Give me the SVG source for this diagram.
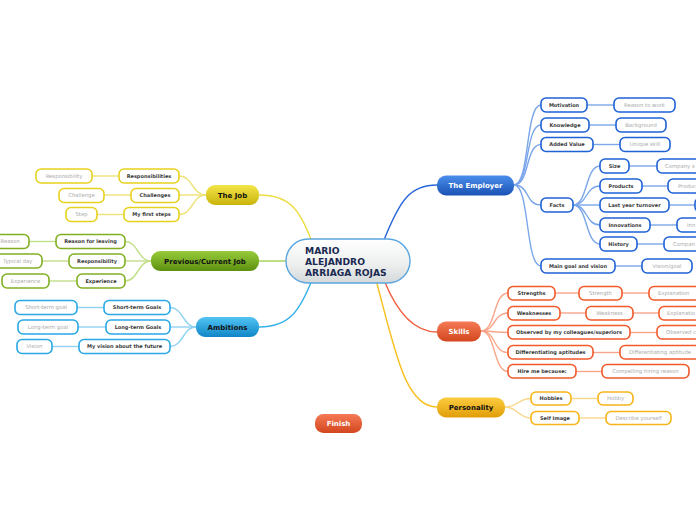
<svg xmlns="http://www.w3.org/2000/svg" width="696" height="520" viewBox="0 0 696 520">
<defs>
<linearGradient id="gCenter" x1="0" y1="0" x2="0" y2="1"><stop offset="0" stop-color="#ffffff"/><stop offset="0.6" stop-color="#eceeee"/><stop offset="1" stop-color="#d4d8d8"/></linearGradient>
<linearGradient id="gBlue" x1="0" y1="0" x2="0" y2="1"><stop offset="0" stop-color="#4a8eec"/><stop offset="1" stop-color="#1a52b4"/></linearGradient>
<linearGradient id="gRed" x1="0" y1="0" x2="0" y2="1"><stop offset="0" stop-color="#f57a55"/><stop offset="1" stop-color="#d2461e"/></linearGradient>
<linearGradient id="gOrange" x1="0" y1="0" x2="0" y2="1"><stop offset="0" stop-color="#fbcc40"/><stop offset="1" stop-color="#e19d08"/></linearGradient>
<linearGradient id="gYellow" x1="0" y1="0" x2="0" y2="1"><stop offset="0" stop-color="#f3e448"/><stop offset="1" stop-color="#c9b40c"/></linearGradient>
<linearGradient id="gGreen" x1="0" y1="0" x2="0" y2="1"><stop offset="0" stop-color="#98cc3c"/><stop offset="1" stop-color="#5c900e"/></linearGradient>
<linearGradient id="gCyan" x1="0" y1="0" x2="0" y2="1"><stop offset="0" stop-color="#52c4f4"/><stop offset="1" stop-color="#0e86c6"/></linearGradient>
</defs>
<style>
text{font-family:"DejaVu Sans",Verdana,sans-serif}
.c{fill:none;stroke-width:1.4}
.main{font-size:7px;font-weight:bold;text-anchor:middle}
.l2{fill:#fff;stroke-width:1.6}
.t2{font-size:5px;font-weight:bold;fill:#3a3a3a;text-anchor:middle}
.t3{font-size:5.3px;fill:#aaa;text-anchor:middle}
.s{text-anchor:start}
.bl{stroke:#1e62d6}.rd{stroke:#f25a2a}.or{stroke:#f8b418}.ye{stroke:#e6d21e}.gr{stroke:#80b022}.cy{stroke:#2aa8e6}
.cbl{stroke:#7ba6ea}.crd{stroke:#f9a58a}.cor{stroke:#fbd68a}.cye{stroke:#eee27a}.cgr{stroke:#c2df8a}.ccy{stroke:#8fd2f2}
</style>
<g id="connectors">
<path class="c" stroke="#2a66d8" d="M384 240 C400 200 410 185 437 185"/>
<path class="c" stroke="#f26040" d="M384 280 C398 315 415 332 437 332"/>
<path class="c" stroke="#f8c020" d="M376 280 C395 350 405 407 437 407"/>
<path class="c" stroke="#ecdc3c" d="M312 242 C300 210 290 195 259 195"/>
<path class="c" stroke="#a2d052" d="M288 261 L259 261"/>
<path class="c" stroke="#34b0ea" d="M312 280 C300 310 290 327 259 327"/>
<g class="c cbl">
<path d="M514 185 C530 185 525 105 541 105"/>
<path d="M514 185 C530 185 525 125 541 125"/>
<path d="M514 185 C530 185 525 144.5 541 144.5"/>
<path d="M514 185 C530 185 525 205 541 205"/>
<path d="M514 185 C530 185 525 266 541 266"/>
<path d="M573 205 C588 205 585 166 600 166"/>
<path d="M573 205 C588 205 585 186 600 186"/>
<path d="M573 205 L600 205"/>
<path d="M573 205 C588 205 585 225 600 225"/>
<path d="M573 205 C588 205 585 244 600 244"/>
<path d="M587 105 H614"/><path d="M589 125 H616"/><path d="M593 144.5 H620"/>
<path d="M629 166 H657"/><path d="M642 186 H668"/><path d="M669 205 H695"/><path d="M650 225 H677"/><path d="M637 244 H664"/>
<path d="M615 266 H642"/>
</g>
<g class="c crd">
<path d="M481 331 C496 331 493 293 508 293"/>
<path d="M481 331 C496 331 493 313 508 313"/>
<path d="M481 331 C496 331 493 332.5 508 332.5"/>
<path d="M481 331 C496 331 493 352.5 508 352.5"/>
<path d="M481 331 C496 331 493 371.5 508 371.5"/>
<path d="M555 293 H579"/><path d="M622 293 H649"/>
<path d="M560 313 H586"/><path d="M633 313 H659"/>
<path d="M630 332.5 H657"/><path d="M593 352.5 H620"/><path d="M576 371.5 H602"/>
</g>
<g class="c cor">
<path d="M505 407 C518 407 518 398.5 531 398.5"/>
<path d="M505 407 C518 407 518 418 531 418"/>
<path d="M571 398.5 H598"/><path d="M579 418 H606"/>
</g>
<g class="c cye">
<path d="M206 195 C192 195 193 176 179 176"/>
<path d="M206 195 H179"/>
<path d="M206 195 C192 195 193 214.5 179 214.5"/>
<path d="M119 176 H92"/><path d="M131 195 H104"/><path d="M124 214.5 H97"/>
</g>
<g class="c cgr">
<path d="M151 261 C138 261 138 241.5 125 241.5"/>
<path d="M151 261 H125"/>
<path d="M151 261 C138 261 138 281 125 281"/>
<path d="M56 241.5 H29"/><path d="M69 261 H42"/><path d="M77 281 H49"/>
</g>
<g class="c ccy">
<path d="M196 327 C183 327 183 307.5 170 307.5"/>
<path d="M196 327 H170"/>
<path d="M196 327 C183 327 183 346.5 170 346.5"/>
<path d="M104 307.5 H77"/><path d="M106 327 H78"/><path d="M79 346.5 H52"/>
</g>
</g>
<g id="center">
<rect x="286" y="239" width="124" height="44" rx="22" fill="url(#gCenter)" stroke="#5aa6e0" stroke-width="1.4"/>
<text x="305" y="253.5" font-size="9.2" font-weight="bold" fill="#1b2a52">MARIO</text>
<text x="305" y="264.5" font-size="9.2" font-weight="bold" fill="#1b2a52">ALEJANDRO</text>
<text x="305" y="275.5" font-size="9.2" font-weight="bold" fill="#1b2a52">ARRIAGA ROJAS</text>
</g>
<g id="employer"><rect x="437" y="175.5" width="77" height="20" rx="9" fill="url(#gBlue)"/><text class="main" x="475.5" y="188" fill="#fff">The Employer</text></g>
<g id="skills"><rect x="437" y="321.5" width="44" height="20" rx="9" fill="url(#gRed)"/><text class="main" x="459" y="334" fill="#fff">Skills</text></g>
<g id="personality"><rect x="437" y="397.5" width="68" height="20" rx="9" fill="url(#gOrange)"/><text class="main" x="471" y="410" fill="#111">Personality</text></g>
<g id="thejob"><rect x="206" y="185" width="53" height="20" rx="9" fill="url(#gYellow)"/><text class="main" x="232.5" y="197.5" fill="#111">The Job</text></g>
<g id="previous"><rect x="151" y="251" width="108" height="20" rx="9" fill="url(#gGreen)"/><text class="main" x="205" y="263.5" fill="#111">Previous/Current Job</text></g>
<g id="ambitions"><rect x="196" y="317" width="63" height="20" rx="9" fill="url(#gCyan)"/><text class="main" x="227.5" y="329.5" fill="#111">Ambitions</text></g>
<g id="finish"><rect x="315" y="414" width="47" height="19" rx="8.5" fill="url(#gRed)"/><text class="main" x="338.5" y="426" fill="#fff">Finish</text></g>

<g id="motivation"><rect class="l2 bl" x="541" y="98" width="46" height="14" rx="5"/><text class="t2" x="564" y="106.8">Motivation</text></g>
<g id="reason-work"><rect class="l2 bl" x="614" y="98" width="61" height="14" rx="5"/><text class="t3" x="644.5" y="106.8">Reason to work</text></g>
<g id="knowledge"><rect class="l2 bl" x="541" y="118" width="48" height="14" rx="5"/><text class="t2" x="565" y="126.8">Knowledge</text></g>
<g id="background"><rect class="l2 bl" x="616" y="118" width="50" height="14" rx="5"/><text class="t3" x="641" y="126.8">Background</text></g>
<g id="added-value"><rect class="l2 bl" x="541" y="137.5" width="52" height="14" rx="5"/><text class="t2" x="567" y="146.3">Added Value</text></g>
<g id="unique-skill"><rect class="l2 bl" x="620" y="137.5" width="50" height="14" rx="5"/><text class="t3" x="645" y="146.3">Unique skill</text></g>
<g id="facts"><rect class="l2 bl" x="541" y="198" width="32" height="14" rx="5"/><text class="t2" x="557" y="206.8">Facts</text></g>
<g id="size"><rect class="l2 bl" x="600" y="159" width="29" height="14" rx="5"/><text class="t2" x="614.5" y="167.8">Size</text></g>
<g id="company-size"><rect class="l2 bl" x="657" y="159" width="60" height="14" rx="5"/><text class="t3 s" x="665" y="167.8">Company s</text></g>
<g id="products"><rect class="l2 bl" x="600" y="179" width="42" height="14" rx="5"/><text class="t2" x="621" y="187.8">Products</text></g>
<g id="products2"><rect class="l2 bl" x="668" y="179" width="50" height="14" rx="5"/><text class="t3 s" x="678" y="187.8">Produc</text></g>
<g id="turnover"><rect class="l2 bl" x="600" y="198" width="69" height="14" rx="5"/><text class="t2" x="634.5" y="206.8">Last year turnover</text></g>
<g id="turnover2"><rect class="l2 bl" x="695" y="198" width="40" height="14" rx="5"/></g>
<g id="innovations"><rect class="l2 bl" x="600" y="218" width="50" height="14" rx="5"/><text class="t2" x="625" y="226.8">Innovations</text></g>
<g id="innovations2"><rect class="l2 bl" x="677" y="218" width="50" height="14" rx="5"/><text class="t3 s" x="687" y="226.8">Inn</text></g>
<g id="history"><rect class="l2 bl" x="600" y="237" width="37" height="14" rx="5"/><text class="t2" x="618.5" y="245.8">History</text></g>
<g id="history2"><rect class="l2 bl" x="664" y="237" width="50" height="14" rx="5"/><text class="t3 s" x="673" y="245.8">Compan</text></g>
<g id="main-goal"><rect class="l2 bl" x="541" y="259" width="74" height="14" rx="5"/><text class="t2" x="578" y="267.8">Main goal and vision</text></g>
<g id="vision-goal"><rect class="l2 bl" x="642" y="259" width="50" height="14" rx="5"/><text class="t3" x="667" y="267.8">Vision/goal</text></g>

<g id="strengths"><rect class="l2 rd" x="508" y="286.5" width="47" height="13.5" rx="5"/><text class="t2" x="531.5" y="295">Strengths</text></g>
<g id="strength"><rect class="l2 rd" x="579" y="286.5" width="43" height="13.5" rx="5"/><text class="t3" x="600.5" y="295">Strength</text></g>
<g id="explanation1"><rect class="l2 rd" x="649" y="286.5" width="56" height="13.5" rx="5"/><text class="t3 s" x="658" y="295">Explanation</text></g>
<g id="weaknesses"><rect class="l2 rd" x="508" y="306.5" width="52" height="13.5" rx="5"/><text class="t2" x="534" y="315">Weaknesses</text></g>
<g id="weakness"><rect class="l2 rd" x="586" y="306.5" width="47" height="13.5" rx="5"/><text class="t3" x="609.5" y="315">Weakness</text></g>
<g id="explanation2"><rect class="l2 rd" x="659" y="306.5" width="50" height="13.5" rx="5"/><text class="t3 s" x="667" y="315">Explanatio</text></g>
<g id="observed"><rect class="l2 rd" x="508" y="325.5" width="122" height="13.5" rx="5"/><text class="t2" x="569" y="334">Observed by my colleagues/superiors</text></g>
<g id="observed2"><rect class="l2 rd" x="657" y="325.5" width="50" height="13.5" rx="5"/><text class="t3 s" x="666" y="334">Observed c</text></g>
<g id="differentiating"><rect class="l2 rd" x="508" y="345.5" width="85" height="13.5" rx="5"/><text class="t2" x="550.5" y="354">Differentiating aptitudes</text></g>
<g id="differentiating2"><rect class="l2 rd" x="620" y="345.5" width="82" height="13.5" rx="5"/><text class="t3 s" x="629" y="354">Differentiating aptitude</text></g>
<g id="hire"><rect class="l2 rd" x="508" y="364.5" width="68" height="13.5" rx="5"/><text class="t2" x="542" y="373">Hire me because:</text></g>
<g id="hire2"><rect class="l2 rd" x="602" y="364.5" width="87" height="13.5" rx="5"/><text class="t3" x="645.5" y="373">Compelling hiring reason</text></g>

<g id="hobbies"><rect class="l2 or" x="531" y="392" width="40" height="13" rx="5"/><text class="t2" x="551" y="400.3">Hobbies</text></g>
<g id="hobby"><rect class="l2 or" x="598" y="392" width="35" height="13" rx="5"/><text class="t3" x="615.5" y="400.3">Hobby</text></g>
<g id="self-image"><rect class="l2 or" x="531" y="411.5" width="48" height="13" rx="5"/><text class="t2" x="555" y="419.8">Self Image</text></g>
<g id="describe"><rect class="l2 or" x="606" y="411.5" width="65" height="13" rx="5"/><text class="t3" x="638.5" y="419.8">Describe yourself</text></g>

<g id="responsibilities"><rect class="l2 ye" x="119" y="169" width="60" height="14" rx="5"/><text class="t2" x="149" y="177.8">Responsibilities</text></g>
<g id="responsibility1"><rect class="l2 ye" x="36" y="169" width="56" height="14" rx="5"/><text class="t3" x="64" y="177.8">Responsibility</text></g>
<g id="challenges"><rect class="l2 ye" x="131" y="188.5" width="48" height="14" rx="5"/><text class="t2" x="155" y="197.3">Challenges</text></g>
<g id="challenge"><rect class="l2 ye" x="59" y="188.5" width="45" height="14" rx="5"/><text class="t3" x="81.5" y="197.3">Challenge</text></g>
<g id="first-steps"><rect class="l2 ye" x="124" y="207.5" width="55" height="14" rx="5"/><text class="t2" x="151.5" y="216.3">My first steps</text></g>
<g id="step"><rect class="l2 ye" x="66" y="207.5" width="31" height="14" rx="5"/><text class="t3" x="81.5" y="216.3">Step</text></g>

<g id="reason-leaving"><rect class="l2 gr" x="56" y="234.5" width="69" height="14" rx="5"/><text class="t2" x="90.5" y="243.3">Reason for leaving</text></g>
<g id="reason"><rect class="l2 gr" x="-10" y="234.5" width="39" height="14" rx="5"/><text class="t3 s" x="0.5" y="243.3">Reason</text></g>
<g id="responsibility2"><rect class="l2 gr" x="69" y="254" width="56" height="14" rx="5"/><text class="t2" x="97" y="262.8">Responsibility</text></g>
<g id="typical-day"><rect class="l2 gr" x="-5" y="254" width="47" height="14" rx="5"/><text class="t3 s" x="3" y="262.8">Typical day</text></g>
<g id="experience"><rect class="l2 gr" x="77" y="274" width="48" height="14" rx="5"/><text class="t2" x="101" y="282.8">Experience</text></g>
<g id="experience2"><rect class="l2 gr" x="2" y="274" width="47" height="14" rx="5"/><text class="t3" x="25.5" y="282.8">Experience</text></g>

<g id="short-goals"><rect class="l2 cy" x="104" y="300.5" width="66" height="14" rx="5"/><text class="t2" x="137" y="309.3">Short-term Goals</text></g>
<g id="short-goal"><rect class="l2 cy" x="15" y="300.5" width="62" height="14" rx="5"/><text class="t3" x="46" y="309.3">Short-term goal</text></g>
<g id="long-goals"><rect class="l2 cy" x="106" y="320" width="64" height="14" rx="5"/><text class="t2" x="138" y="328.8">Long-term Goals</text></g>
<g id="long-goal"><rect class="l2 cy" x="18" y="320" width="60" height="14" rx="5"/><text class="t3" x="48" y="328.8">Long-term goal</text></g>
<g id="vision-future"><rect class="l2 cy" x="79" y="339.5" width="91" height="14" rx="5"/><text class="t2" x="124.5" y="348.3">My vision about the future</text></g>
<g id="vision"><rect class="l2 cy" x="17" y="339.5" width="35" height="14" rx="5"/><text class="t3" x="34.5" y="348.3">Vision</text></g>
</svg>
